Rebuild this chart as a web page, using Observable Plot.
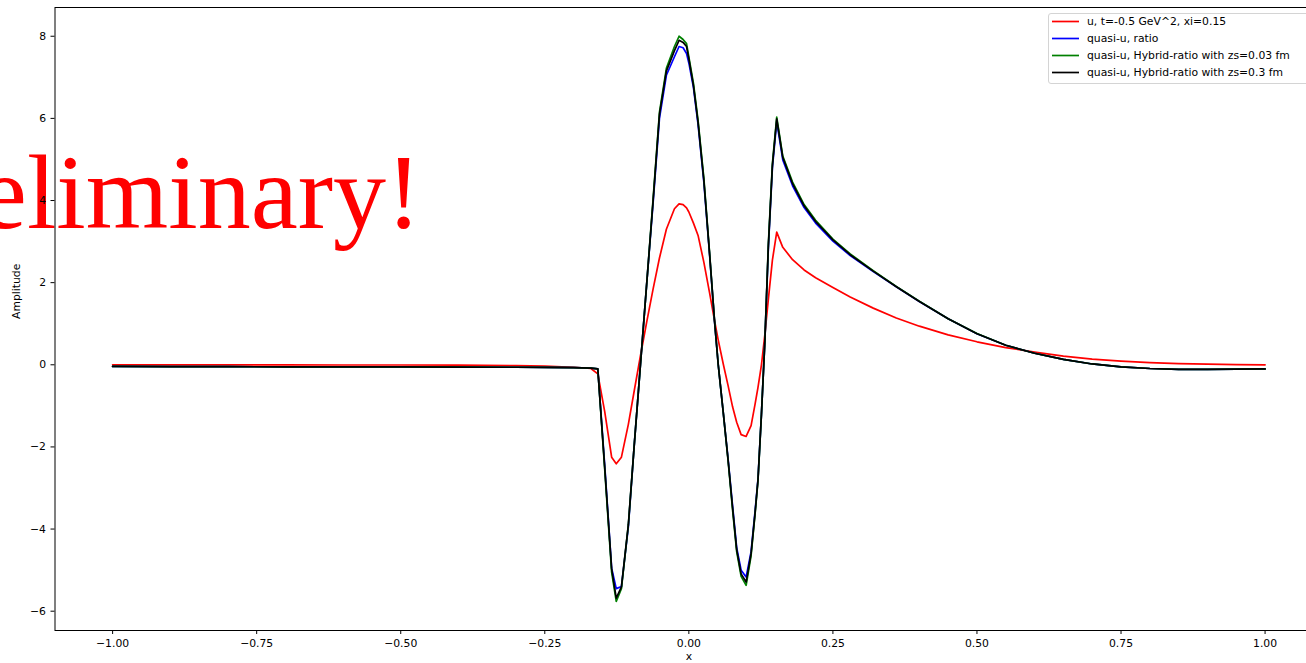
<!DOCTYPE html>
<html><head><meta charset="utf-8">
<script src="https://cdn.jsdelivr.net/npm/d3@7"></script>
<script src="https://cdn.jsdelivr.net/npm/@observablehq/plot@0.6"></script>
<style>
html,body{margin:0;padding:0;background:#fff;overflow:hidden;}
#wrap{position:relative;width:1306px;height:663px;overflow:hidden;}
#wrap svg{overflow:hidden;}
.legend{position:absolute;left:1048px;top:13px;width:300px;height:69px;border:1px solid #d4d4d4;border-radius:3px;background:rgba(255,255,255,0.8);font-family:"DejaVu Sans";font-size:10.8px;color:#000;}
.legend .row{position:absolute;left:0;height:17px;line-height:17px;white-space:nowrap;}
.legend .row svg{position:absolute;left:2px;top:0;}
.legend .row span{position:absolute;left:38px;top:0;}
</style></head><body><div id="wrap"></div>
<script>
// x grid shared by all series
const xs = [-1.0,-0.9,-0.8,-0.7,-0.6,-0.5,-0.4,-0.3,-0.25,-0.2,-0.17,-0.158,-0.146,-0.134,-0.126,-0.117,-0.105,-0.095,-0.084,-0.073,-0.062,-0.051,-0.039,-0.025,-0.017,-0.010,-0.004,0.0,0.008,0.016,0.026,0.036,0.0445,0.051,0.06,0.068,0.076,0.083,0.0907,0.0994,0.108,0.115,0.12,0.126,0.132,0.138,0.145,0.1525,0.163,0.18,0.2,0.22,0.25,0.28,0.32,0.36,0.4,0.45,0.5,0.55,0.6,0.65,0.7,0.75,0.8,0.85,0.9,0.95,1.0];

const uValues = [0.0,0.0,0.0,0.0,-0.005,-0.005,-0.01,-0.02,-0.03,-0.06,-0.09,-0.22,-1.14,-2.25,-2.41,-2.25,-1.45,-0.65,0.22,1.05,1.85,2.6,3.3,3.8,3.92,3.9,3.82,3.72,3.45,3.15,2.5,1.75,1.08,0.6,0.0,-0.5,-1.03,-1.4,-1.70,-1.745,-1.48,-0.95,-0.55,0.0,0.75,1.6,2.55,3.23,2.86,2.56,2.31,2.12,1.88,1.65,1.38,1.14,0.94,0.73,0.56,0.42,0.31,0.21,0.14,0.09,0.055,0.03,0.015,0.005,0.0];

const ratioValues = [-0.04,-0.045,-0.045,-0.05,-0.05,-0.05,-0.055,-0.06,-0.065,-0.07,-0.08,-0.1,-2.45,-4.95,-5.45,-5.4,-3.95,-2.0,0.0,2.0,3.95,6.0,7.05,7.5,7.75,7.72,7.58,7.35,6.75,5.85,4.45,2.68,1.07,0.0,-1.2,-2.28,-3.45,-4.45,-5.0,-5.17,-4.55,-3.55,-2.78,-1.2,0.6,2.85,4.8,5.92,4.99,4.36,3.83,3.45,3.01,2.66,2.27,1.9,1.54,1.12,0.755,0.475,0.28,0.13,0.02,-0.05,-0.09,-0.11,-0.11,-0.105,-0.1];

const hybrid003Values = [-0.04,-0.045,-0.045,-0.05,-0.05,-0.05,-0.055,-0.06,-0.065,-0.07,-0.08,-0.1,-2.55,-5.05,-5.76,-5.45,-3.9,-2.0,0.0,2.0,4.05,6.15,7.22,7.75,8.0,7.92,7.82,7.5,6.85,5.95,4.55,2.72,1.09,0.0,-1.2,-2.32,-3.55,-4.55,-5.15,-5.37,-4.65,-3.62,-2.82,-1.2,0.6,2.95,4.9,6.03,5.08,4.45,3.9,3.52,3.06,2.7,2.29,1.91,1.55,1.12,0.76,0.475,0.28,0.13,0.02,-0.05,-0.09,-0.11,-0.11,-0.105,-0.1];

const hybrid03Values = [-0.04,-0.045,-0.045,-0.05,-0.05,-0.05,-0.055,-0.06,-0.065,-0.07,-0.08,-0.1,-2.5,-4.97,-5.68,-5.41,-3.9,-2.0,0.0,2.0,4.0,6.1,7.15,7.65,7.9,7.85,7.75,7.45,6.8,5.9,4.5,2.7,1.08,0.0,-1.2,-2.3,-3.5,-4.5,-5.09,-5.29,-4.6,-3.6,-2.8,-1.2,0.6,2.9,4.85,5.99,5.05,4.41,3.87,3.49,3.04,2.68,2.28,1.9,1.54,1.12,0.755,0.475,0.28,0.13,0.02,-0.05,-0.09,-0.11,-0.11,-0.105,-0.1];

const seriesNames = ["u, t=-0.5 GeV^2, xi=0.15","quasi-u, ratio","quasi-u, Hybrid-ratio with zs=0.03 fm","quasi-u, Hybrid-ratio with zs=0.3 fm"];
const seriesColors = ["#ff0000","#0000ff","#008000","#000000"];
const seriesValues = [uValues, ratioValues, hybrid003Values, hybrid03Values];

const xTicks = [-1.0,-0.75,-0.5,-0.25,0.0,0.25,0.5,0.75,1.0];
const yTicks = [-6,-4,-2,0,2,4,6,8];
const annotations = [{text: "Preliminary!", x: -1.394, y: 3.33}];

const rows = seriesNames.map((name, i) => xs.map((x, j) => ({x, y: seriesValues[i][j], name})));

const chart = Plot.plot({
  width: 1306,
  height: 663,
  marginLeft: 54.5,
  marginRight: -16.2,
  marginTop: 7,
  marginBottom: 33,
  style: {fontFamily: "DejaVu Sans", fontSize: "10.8px", color: "#000", background: "#fff", overflow: "hidden"},
  x: {domain: [-1.1, 1.1]},
  y: {domain: [-6.47, 8.70]},
  marks: [
    Plot.text(annotations, {x: "x", y: "y", text: "text", fill: "#ff0000", fontFamily: "Liberation Serif", fontSize: 106, textAnchor: "start", lineAnchor: "bottom"}),
    ...rows.map((r, i) => Plot.line(r, {x: "x", y: "y", stroke: seriesColors[i], strokeWidth: 1.7})),
    Plot.frame({stroke: "#000", strokeWidth: 1}),
    Plot.axisX({ticks: xTicks, tickFormat: d3.format(".2f"), tickSize: 4, tickPadding: 5, label: null, fontSize: 10.8}),
    Plot.axisY({ticks: yTicks, tickFormat: d3.format(".0f"), tickSize: 4, tickPadding: 5, label: null, fontSize: 10.8}),
    Plot.text(["Amplitude"], {frameAnchor: "left", dx: -38, rotate: -90, fontSize: 10.8}),
    Plot.text(["x"], {frameAnchor: "bottom", dy: 29, fontSize: 10.8})
  ]
});
const wrap = document.getElementById("wrap");
wrap.appendChild(chart);

const legend = d3.select(wrap).append("div").attr("class", "legend");
seriesNames.forEach((name, i) => {
  const row = legend.append("div").attr("class", "row").style("top", (-1 + 17 * i) + "px");
  const s = row.append("svg").attr("width", 30).attr("height", 17);
  s.append("line").attr("x1", 1).attr("x2", 28).attr("y1", 8.5).attr("y2", 8.5).attr("stroke", seriesColors[i]).attr("stroke-width", 1.7);
  row.append("span").text(name);
});
</script></body></html>
